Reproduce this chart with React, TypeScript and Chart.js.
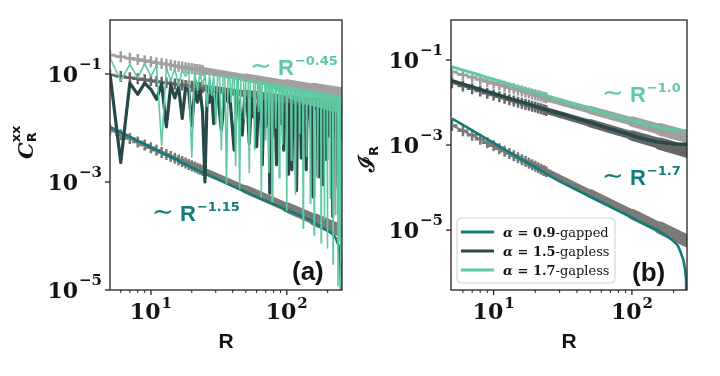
import React, { useEffect, useRef } from "react";
import { Chart, registerables } from "chart.js";

Chart.register(...registerables);

type Pt = [number, number];

// ---------- axis ticks ----------
const X_TICK_MAJOR = [10, 100];
const X_TICK_LABELS = ["1", "2"];
const X_TICK_MINOR = [6, 7, 8, 9, 20, 30, 40, 50, 60, 70, 80, 90, 200];
const Y_TICK_MAJOR = [1e-1, 1e-3, 1e-5];
const Y_TICK_LABELS = ["−1", "−3", "−5"];

// R positions of the gray "+" markers of the power-law guides
const MARK_R = [5, 6, 7, 8, 9, 10, 11, 12, 13, 14, 15, 16, 17, 18, 19, 20, 21, 22, 23, 24];

// ---------- panel (a): C_R^xx ----------
const A_FIT_HI = [0.225, 0.208, 0.195, 0.185, 0.176, 0.168, 0.162, 0.156, 0.151, 0.146, 0.142, 0.138, 0.135, 0.131, 0.128, 0.126, 0.123, 0.121, 0.119, 0.116];
const A_FIT_HI_BAND: Pt[] = [[24, 0.116], [50, 0.0855], [100, 0.064], [160, 0.0525], [255, 0.0432]];
const A_FIT_MID = [0.096, 0.09, 0.0853, 0.0814, 0.0781, 0.0754, 0.0729, 0.0707, 0.0687, 0.0669, 0.0654, 0.0639, 0.0626, 0.0613, 0.0602, 0.0591, 0.0581, 0.0571, 0.0563, 0.0555];
const A_FIT_MID_BAND: Pt[] = [[24, 0.0555], [50, 0.0429], [100, 0.0336], [160, 0.0285], [255, 0.0243]];
const A_FIT_LO = [0.0092, 0.00753, 0.00636, 0.00548, 0.00482, 0.00429, 0.00386, 0.00351, 0.00322, 0.00296, 0.00275, 0.00256, 0.00239, 0.00225, 0.00212, 0.002, 0.0019, 0.0018, 0.00172, 0.00164];
const A_FIT_LO_BAND: Pt[] = [[24, 0.00164], [50, 0.00073], [100, 0.000341], [160, 0.000203], [255, 0.000122]];

const A_TEAL: Pt[] = [[5, 0.0105], [6, 0.0084], [7, 0.0069], [8, 0.0058], [10, 0.0044], [12, 0.0035], [15, 0.0027], [20, 0.00185], [25, 0.00143], [30, 0.00117], [40, 0.00084], [50, 0.00065], [60, 0.00053], [70, 0.00045], [80, 0.00039], [100, 0.000305], [120, 0.00025], [150, 0.000195], [180, 0.000145], [200, 0.000125], [215, 0.000112], [230, 0.00009], [240, 0.000068], [245, 0.00005], [248, 0.00003], [250, 0.000013], [251, 0.000003]];

const A_DARK: Pt[] = [[5, 0.1], [6, 0.0023], [7, 0.068], [8, 0.042], [9, 0.068], [10, 0.052], [11, 0.034], [12, 0.066], [13, 0.0105], [14, 0.062], [15, 0.036], [16, 0.058], [17, 0.015], [18, 0.055], [19, 0.048], [20, 0.011], [21, 0.052], [22, 0.03], [23, 0.05], [24, 0.02], [25, 0.001], [26, 0.048], [27, 0.03], [28, 0.046], [29, 0.012], [30, 0.045],
  [31, 0.044], [33, 0.0092], [35, 0.043], [37, 0.03], [38, 0.042], [41, 0.0039], [43, 0.04], [45, 0.025], [47, 0.0074], [49, 0.037], [51, 0.036], [53, 0.0052], [55, 0.035], [57, 0.016], [58, 0.034], [60, 0.0045], [62, 0.033], [64, 0.032], [66, 0.0021], [68, 0.031], [70, 0.0106], [72, 0.031], [74, 0.03], [75, 0.00062], [76, 0.03], [77, 0.029], [78, 0.0069], [80, 0.029], [82, 0.029], [84, 0.0021], [86, 0.029], [88, 0.028], [89, 0.012], [91, 0.028], [93, 0.028], [95, 0.0039], [97, 0.027],
  [101, 0.027], [103, 0.0014], [105, 0.027], [107, 0.026], [109, 0.0017], [111, 0.026], [116, 0.026], [118, 0.0007], [120, 0.026], [126, 0.025], [128, 0.0028], [130, 0.025], [137, 0.024], [139, 0.0017], [141, 0.024], [148, 0.024], [150, 0.01], [152, 0.024], [154, 0.024], [156, 0.00053], [158, 0.024], [168, 0.023], [170, 0.00125], [172, 0.023], [180, 0.023], [182, 0.0009], [184, 0.023], [193, 0.022], [195, 0.0026], [197, 0.022], [206, 0.022], [208, 0.007], [210, 0.022], [216, 0.0215], [218, 0.00023], [220, 0.0215], [230, 0.021], [232, 0.008], [234, 0.021], [236, 0.021], [238, 0.00082], [240, 0.021], [248, 0.021], [250, 0.006]];

const A_GREEN: Pt[] = [[5, 0.2], [6, 0.075], [7, 0.15], [8, 0.085], [9, 0.155], [10, 0.09], [11, 0.145], [12, 0.0048], [13, 0.13], [14, 0.075], [15, 0.125], [16, 0.06], [17, 0.12], [18, 0.09], [19, 0.115], [20, 0.0029], [21, 0.11], [22, 0.05], [23, 0.105], [24, 0.06], [25, 0.1], [26, 0.025], [27, 0.098], [28, 0.04], [29, 0.095], [30, 0.012], [31, 0.093],
  [32, 0.095], [33, 0.004], [34, 0.093], [35, 0.092], [36, 0.00094], [37, 0.09], [38, 0.089], [39, 0.03], [40, 0.087], [41, 0.086], [42, 0.002], [43, 0.084], [44, 0.083], [45, 0.00076], [46, 0.082], [48, 0.08], [49, 0.015], [50, 0.079], [52, 0.077], [53, 0.0015], [54, 0.077], [57, 0.075], [58, 0.004], [59, 0.074], [61, 0.072], [62, 0.02], [63, 0.071], [64, 0.071], [65, 0.00053], [66, 0.07], [69, 0.068], [70, 0.006], [71, 0.068], [73, 0.066], [74, 0.0015], [75, 0.066], [77, 0.065], [78, 0.00043], [79, 0.064], [82, 0.063], [83, 0.01], [84, 0.062], [87, 0.061], [88, 0.0012], [89, 0.061], [92, 0.06], [93, 0.005], [94, 0.059],
  [99, 0.057], [100, 0.0003], [101, 0.057], [107, 0.056], [108, 0.0025], [109, 0.055], [115, 0.054], [116, 0.0006], [117, 0.054], [123, 0.053], [124, 0.008], [125, 0.052], [131, 0.051], [132, 0.00014], [133, 0.051], [139, 0.049], [140, 0.003], [141, 0.049], [148, 0.048], [149, 0.0004], [150, 0.048], [158, 0.047], [159, 0.000104], [160, 0.047], [168, 0.045], [169, 0.0012], [170, 0.045], [178, 0.044], [179, 0.000074], [180, 0.044], [188, 0.043], [189, 0.0002], [190, 0.043], [198, 0.042], [199, 0.00006], [200, 0.042], [208, 0.041], [209, 0.0005], [210, 0.041], [218, 0.04], [219, 0.00003], [220, 0.04], [228, 0.039], [229, 0.00025], [230, 0.039], [237, 0.039], [238, 0.000012], [239, 0.039], [244, 0.038], [245, 0.00008], [246, 0.038], [249, 0.038], [250, 0.000003]];

// dense (unresolved) part of the α=1.7 oscillation at large R
const A_GREEN_BAND_TOP: Pt[] = [[70, 0.068], [100, 0.057], [150, 0.048], [200, 0.042], [250, 0.038]];
const A_GREEN_BAND_BOTTOM: Pt[] = [[70, 0.066], [90, 0.045], [100, 0.036], [150, 0.026], [200, 0.021], [250, 0.018]];

// ---------- panel (b): I_R ----------
const B_FIT_HI = [0.053, 0.045, 0.0392, 0.0347, 0.0312, 0.0284, 0.0261, 0.0241, 0.0224, 0.021, 0.0197, 0.0186, 0.0176, 0.0167, 0.0159, 0.0152, 0.0146, 0.014, 0.0134, 0.0129];
const B_FIT_HI_BAND: Pt[] = [[24, 0.0129], [50, 0.00667], [100, 0.00358], [160, 0.00234], [250, 0.00157]];
const B_FIT_MID = [0.029, 0.0244, 0.0211, 0.0186, 0.0166, 0.015, 0.0137, 0.0126, 0.0117, 0.0109, 0.0102, 0.0096, 0.0091, 0.0086, 0.0082, 0.0078, 0.0074, 0.0071, 0.0068, 0.0065];
const B_FIT_MID_BAND: Pt[] = [[24, 0.0065], [50, 0.00325], [100, 0.00168], [160, 0.001078], [250, 0.000705]];
const B_FIT_LO = [0.0029, 0.00217, 0.00169, 0.00137, 0.00113, 0.000957, 0.000821, 0.000715, 0.000629, 0.000559, 0.0005, 0.000451, 0.000409, 0.000374, 0.000342, 0.000316, 0.000292, 0.000271, 0.000252, 0.000236];
const B_FIT_LO_BAND: Pt[] = [[24, 0.000236], [50, 0.0000728], [100, 0.000024], [160, 0.0000113], [250, 0.00000555]];

const B_TEAL: Pt[] = [[5, 0.0042], [6, 0.00297], [7, 0.00222], [8, 0.00172], [10, 0.001125], [12, 0.000796], [15, 0.000521], [20, 0.000302], [25, 0.000197], [30, 0.00014], [40, 0.0000876], [50, 0.0000609], [60, 0.0000452], [80, 0.0000283], [100, 0.0000197], [120, 0.0000146], [150, 0.0000102], [180, 0.0000072], [200, 0.0000055], [215, 0.0000043], [225, 0.000003], [235, 0.000002], [242, 0.0000012], [246, 0.0000007], [248, 0.0000004], [249.5, 0.0000001]];
const B_DARK: Pt[] = [[5, 0.0326], [6, 0.0272], [7, 0.0233], [8, 0.0204], [10, 0.0163], [12, 0.0136], [15, 0.0109], [20, 0.0082], [25, 0.0065], [33, 0.0051], [40, 0.0042], [50, 0.0034], [60, 0.0028], [70, 0.0024], [80, 0.0021], [100, 0.0017], [115, 0.00146], [130, 0.00132], [150, 0.0012], [170, 0.00113], [190, 0.00108], [210, 0.00106], [230, 0.00105], [250, 0.00104]];
const B_GREEN: Pt[] = [[5, 0.07], [6, 0.058], [7, 0.05], [8, 0.0438], [10, 0.035], [12, 0.0292], [15, 0.0234], [20, 0.0175], [25, 0.014], [33, 0.0105], [40, 0.0088], [50, 0.0071], [60, 0.006], [70, 0.0052], [80, 0.0046], [100, 0.0038], [115, 0.0033], [130, 0.003], [150, 0.0027], [170, 0.00252], [190, 0.0024], [210, 0.00228], [230, 0.0022], [250, 0.00218]];

const LEGEND_ITEMS = [
  { bold: "0.9", rest: "-gapped" },
  { bold: "1.5", rest: "-gapless" },
  { bold: "1.7", rest: "-gapless" },
];

// ---------- styles ----------
const C_GREEN = "#5fc9a1";
const C_TEAL = "#137b79";
const C_DARK = "#264949";
const C_GRAY_LIGHT = "#a0a0a0";
const C_GRAY_MID = "#666666";
const C_GRAY_LOW = "#7a7a7a";
const BAND_W = [7, 8.5, 10.5, 12.5];
const SERIF = '"DejaVu Serif", serif';
const SANS = '"DejaVu Sans", sans-serif';
const ARIAL = '"Liberation Sans", Arial, sans-serif';
const INK = "#141414";

const pts = (a: Pt[]) => a.map(([x, y]) => ({ x, y }));

function lineDs(data: Pt[], color: string, width: number, order: number, extra: any = {}) {
  return { data: pts(data), borderColor: color, borderWidth: width, pointRadius: 0, fill: false, order, tension: 0, borderJoinStyle: "round", ...extra };
}
function markDs(vals: number[], color: string, order: number) {
  return {
    data: MARK_R.map((x, i) => ({ x, y: vals[i] })),
    borderColor: color, borderWidth: 2, showLine: true, pointStyle: "cross",
    pointRadius: 5.5, pointBorderWidth: 2.5, pointBorderColor: color, pointBackgroundColor: color, order, fill: false,
  };
}
function bandDs(data: Pt[], color: string, order: number) {
  return lineDs(data, color, 10, order, { borderCapStyle: "round", segment: { borderWidth: (c: any) => BAND_W[c.p0DataIndex] ?? 10 } });
}

function drawPow(ctx: CanvasRenderingContext2D, exp: string, x: number, baseline: number, align: "right" | "center", raise: number) {
  ctx.font = `bold 22px ${SERIF}`;
  const wb = ctx.measureText("10").width;
  ctx.font = `bold 15px ${SERIF}`;
  const we = ctx.measureText(exp).width;
  const total = wb + 1 + we;
  const x0 = align === "right" ? x - total : x - total / 2;
  ctx.textAlign = "left";
  ctx.textBaseline = "alphabetic";
  ctx.fillStyle = INK;
  ctx.font = `bold 22px ${SERIF}`;
  ctx.fillText("10", x0, baseline);
  ctx.font = `bold 15px ${SERIF}`;
  ctx.fillText(exp, x0 + wb + 1, baseline - raise);
}

function drawAnno(ctx: CanvasRenderingContext2D, color: string, x: number, baseline: number, exp: string) {
  ctx.fillStyle = color;
  ctx.textAlign = "left";
  ctx.textBaseline = "alphabetic";
  ctx.font = `26px ${SANS}`;
  ctx.fillText("∼", x, baseline - 1);
  ctx.font = `bold 22px ${ARIAL}`;
  ctx.fillText("R", x + 28, baseline);
  const wr = ctx.measureText("R").width;
  ctx.font = `bold 13px ${SANS}`;
  ctx.fillText(exp, x + 28 + wr + 1, baseline - 10.5);
}

function decorPlugin(extra: (ctx: CanvasRenderingContext2D, chart: any) => void) {
  return {
    id: "decor",
    afterDraw(chart: any) {
      const ctx: CanvasRenderingContext2D = chart.ctx;
      const { left, right, top, bottom } = chart.chartArea;
      const xs = chart.scales.x;
      const ys = chart.scales.y;
      ctx.save();
      ctx.strokeStyle = "#222";
      ctx.lineWidth = 1.3;
      ctx.strokeRect(left, top, right - left, bottom - top);
      Y_TICK_MAJOR.forEach((v, i) => {
        const py = ys.getPixelForValue(v);
        ctx.beginPath(); ctx.moveTo(left - 5, py); ctx.lineTo(left, py); ctx.stroke();
        drawPow(ctx, Y_TICK_LABELS[i], left - 8, py + 8, "right", 13);
      });
      X_TICK_MAJOR.forEach((v, i) => {
        const px = xs.getPixelForValue(v);
        ctx.beginPath(); ctx.moveTo(px, bottom); ctx.lineTo(px, bottom + 5); ctx.stroke();
        drawPow(ctx, X_TICK_LABELS[i], px, bottom + 29, "center", 11);
      });
      ctx.lineWidth = 1;
      X_TICK_MINOR.forEach((v) => {
        if (v < xs.min || v > xs.max) return;
        const px = xs.getPixelForValue(v);
        ctx.beginPath(); ctx.moveTo(px, bottom); ctx.lineTo(px, bottom + 3); ctx.stroke();
      });
      ctx.fillStyle = INK;
      ctx.textAlign = "center";
      ctx.font = `bold 21px ${ARIAL}`;
      ctx.fillText("R", (left + right) / 2, bottom + 58);
      extra(ctx, chart);
      ctx.restore();
    },
  };
}

function baseOptions(xmin: number, xmax: number, ymin: number, ymax: number, yWidth: number, padRight: number) {
  return {
    responsive: false,
    maintainAspectRatio: false,
    animation: false,
    devicePixelRatio: 1,
    layout: { padding: { left: 0, right: padRight, top: 20, bottom: 0 } },
    plugins: { legend: { display: false }, tooltip: { enabled: false } },
    scales: {
      x: {
        type: "logarithmic", min: xmin, max: xmax,
        grid: { display: false }, border: { display: false }, ticks: { display: false },
        afterFit: (s: any) => { s.height = 86; },
      },
      y: {
        type: "logarithmic", min: ymin, max: ymax,
        grid: { display: false }, border: { display: false }, ticks: { display: false },
        afterFit: (s: any) => { s.width = yWidth; },
      },
    },
  };
}

export default function App() {
  const refA = useRef<HTMLCanvasElement>(null);
  const refB = useRef<HTMLCanvasElement>(null);

  useEffect(() => {
    const chartA = new Chart(refA.current as HTMLCanvasElement, {
      type: "line",
      data: {
        datasets: [
          lineDs(A_GREEN, C_GREEN, 1.6, 1),
          lineDs(A_GREEN_BAND_TOP, "rgba(0,0,0,0)", 0, 1.5, { fill: "+1", backgroundColor: "rgba(95,201,161,0.85)" }),
          lineDs(A_GREEN_BAND_BOTTOM, "rgba(0,0,0,0)", 0, 1.6),
          lineDs(A_DARK, C_DARK, 3.2, 2),
          lineDs(A_TEAL, C_TEAL, 2.6, 3),
          markDs(A_FIT_HI, C_GRAY_LIGHT, 6),
          bandDs(A_FIT_HI_BAND, C_GRAY_LIGHT, 7),
          markDs(A_FIT_MID, C_GRAY_MID, 6),
          bandDs(A_FIT_MID_BAND, C_GRAY_MID, 7),
          markDs(A_FIT_LO, C_GRAY_LOW, 6),
          bandDs(A_FIT_LO_BAND, C_GRAY_LOW, 7),
        ] as any,
      },
      options: baseOptions(5, 255, 1e-5, 1, 110, 4) as any,
      plugins: [
        decorPlugin((ctx) => {
          drawAnno(ctx, C_GREEN, 250, 75, "−0.45");
          drawAnno(ctx, C_TEAL, 152, 221, "−1.15");
          ctx.fillStyle = INK;
          ctx.textAlign = "left";
          ctx.font = `bold 26px ${ARIAL}`;
          ctx.fillText("(a)", 292, 280);
          // y title  C_R^xx
          ctx.save();
          ctx.translate(33, 159);
          ctx.rotate(-Math.PI / 2);
          ctx.font = `bold italic 21px ${SERIF}`;
          ctx.fillText("C", 0, 0);
          const w = ctx.measureText("C").width;
          ctx.font = `bold 13px ${SANS}`;
          ctx.fillText("R", w, 3);
          ctx.fillText("xx", w, -13);
          ctx.restore();
        }) as any,
      ],
    });

    const chartB = new Chart(refB.current as HTMLCanvasElement, {
      type: "line",
      data: {
        datasets: [
          lineDs(B_GREEN, C_GREEN, 3, 1),
          lineDs(B_DARK, C_DARK, 3.5, 2),
          lineDs(B_TEAL, C_TEAL, 2.6, 3),
          markDs(B_FIT_HI, C_GRAY_LIGHT, 6),
          bandDs(B_FIT_HI_BAND, C_GRAY_LIGHT, 7),
          markDs(B_FIT_MID, C_GRAY_MID, 6),
          bandDs(B_FIT_MID_BAND, C_GRAY_MID, 7),
          markDs(B_FIT_LO, C_GRAY_LOW, 6),
          bandDs(B_FIT_LO_BAND, C_GRAY_LOW, 7),
        ] as any,
      },
      options: baseOptions(4.92, 250, 3.9e-7, 0.873, 101, 33) as any,
      plugins: [
        decorPlugin((ctx) => {
          drawAnno(ctx, C_GREEN, 252, 102, "−1.0");
          drawAnno(ctx, C_TEAL, 252, 185, "−1.7");
          ctx.fillStyle = INK;
          ctx.textAlign = "left";
          ctx.font = `bold 26px ${ARIAL}`;
          ctx.fillText("(b)", 282, 281);
          // legend
          const bx = 107, by = 218, bw = 158, bh = 65;
          ctx.fillStyle = "rgba(255,255,255,0.9)";
          ctx.strokeStyle = "#cfcfcf";
          ctx.lineWidth = 1;
          ctx.beginPath();
          (ctx as any).roundRect(bx, by, bw, bh, 4);
          ctx.fill();
          ctx.stroke();
          const cols = [C_TEAL, C_DARK, C_GREEN];
          LEGEND_ITEMS.forEach((it, i) => {
            const yy = 232 + i * 19;
            ctx.strokeStyle = cols[i];
            ctx.lineWidth = 3;
            ctx.beginPath(); ctx.moveTo(111, yy); ctx.lineTo(144, yy); ctx.stroke();
            ctx.fillStyle = INK;
            let x = 153;
            ctx.font = `bold italic 13px ${SERIF}`;
            ctx.fillText("α", x, yy + 5);
            x += ctx.measureText("α").width;
            ctx.font = `bold 13px ${SERIF}`;
            const mid = " = " + it.bold;
            ctx.fillText(mid, x, yy + 5);
            x += ctx.measureText(mid).width;
            ctx.font = `13px ${SERIF}`;
            ctx.fillText(it.rest, x, yy + 5);
          });
          // y title  I_R
          ctx.save();
          ctx.translate(24, 172);
          ctx.rotate(-Math.PI / 2);
          ctx.fillStyle = INK;
          ctx.font = `bold 22px ${SERIF}`;
          ctx.fillText("ℐ", 0, 0);
          const w = ctx.measureText("ℐ").width;
          ctx.font = `bold 13px ${SANS}`;
          ctx.fillText("R", w, 4);
          ctx.restore();
        }) as any,
      ],
    });

    return () => {
      chartA.destroy();
      chartB.destroy();
    };
  }, []);

  return (
    <div style={{ position: "absolute", left: 0, top: 0, width: 720, height: 376, display: "flex", background: "#fff" }}>
      <canvas ref={refA} width={350} height={376} style={{ display: "block", width: 350, height: 376 }} />
      <canvas ref={refB} width={370} height={376} style={{ display: "block", width: 370, height: 376 }} />
    </div>
  );
}
